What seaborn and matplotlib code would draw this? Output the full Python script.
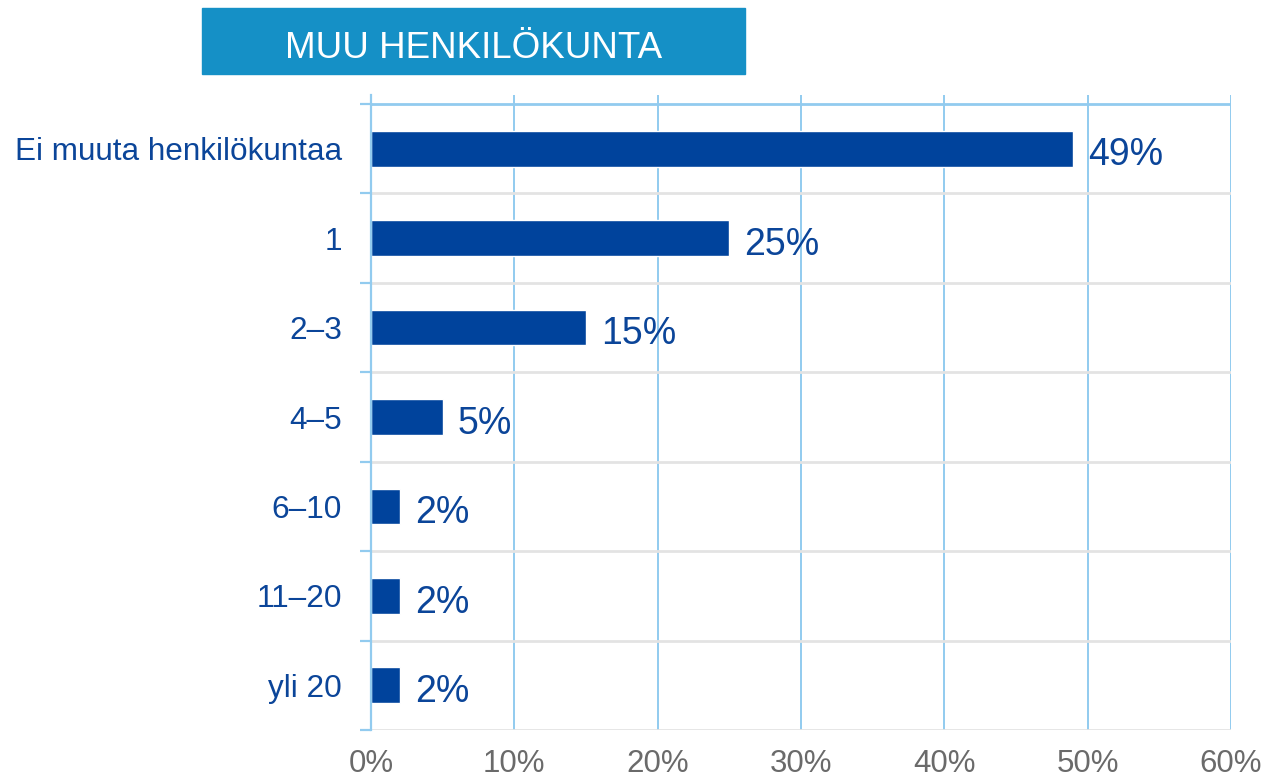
import matplotlib
matplotlib.use("Agg")
import matplotlib.pyplot as plt
from matplotlib.patches import Rectangle
from matplotlib.ticker import FixedLocator, PercentFormatter
import seaborn as sns
import pandas as pd

# Staff size categories and share of respondents (%)
categories = ["Ei muuta henkilökuntaa", "1", "2–3", "4–5", "6–10", "11–20", "yli 20"]
shares = [49, 25, 15, 5, 2, 2, 2]
x_ticks = [0, 10, 20, 30, 40, 50, 60]
title = "MUU HENKILÖKUNTA"

sns.set_theme(style="white")
plt.rcParams["font.family"] = ["Liberation Sans", "DejaVu Sans"]

BAR = "#00439C"
LABEL = "#0B4599"
GRID_BLUE = "#92CBEF"
GRID_GRAY = "#E3E3E3"
TICK_GRAY = "#6A6A6A"

df = pd.DataFrame({"cat": categories, "share": shares})

fig = plt.figure(figsize=(12.68, 7.82), dpi=100)
ax = fig.add_axes([371 / 1268, 1 - 730 / 782, 860 / 1268, 635 / 782])

sns.barplot(data=df, y="cat", x="share", orient="h", color=BAR,
            width=0.4, saturation=1, ax=ax, zorder=3)

n = len(categories)
ax.set_xlim(0, 60)
ax.set_ylim(n - 0.5, -0.5 - 9 / 89.4)

# vertical grid
for xv in x_ticks[1:]:
    ax.axvline(xv, color=GRID_BLUE, lw=1.4, zorder=1)
# horizontal separators between categories
for i in range(1, n + 1):
    ax.axhline(i - 0.5, color=GRID_GRAY, lw=2.0, zorder=1)
ax.axhline(-0.5, color=GRID_BLUE, lw=2.0, zorder=1)

for side in ["top", "right", "bottom"]:
    ax.spines[side].set_visible(False)
ax.spines["left"].set_color(GRID_BLUE)
ax.spines["left"].set_linewidth(1.6)
ax.spines["left"].set_zorder(4)

ax.set_xticks(x_ticks)
ax.xaxis.set_major_formatter(PercentFormatter(decimals=0))
ax.tick_params(axis="x", length=0, pad=14, labelsize=22.5, labelcolor=TICK_GRAY)

ax.yaxis.set_minor_locator(FixedLocator([i - 0.5 for i in range(n + 1)]))
ax.tick_params(axis="y", which="major", length=0, pad=21, labelsize=22.7, labelcolor=LABEL)
ax.tick_params(axis="y", which="minor", left=True, length=8, width=1.6, color=GRID_BLUE)

ax.set_xlabel("")
ax.set_ylabel("")

for i, v in enumerate(shares):
    ax.annotate(f"{v}%", xy=(v, i), xytext=(11, -2), textcoords="offset points",
                va="center_baseline", ha="left", fontsize=27, color=LABEL, zorder=5)

# Title banner
fig.patches.append(Rectangle((202 / 1268, 1 - 74 / 782), 543 / 1268, 66 / 782,
                             transform=fig.transFigure, color="#1590C6", zorder=0))
fig.text(473.5 / 1268, 1 - 44 / 782, title, ha="center", va="center_baseline",
         fontsize=26.5, color="white")

fig.savefig("out.png", dpi=100)
